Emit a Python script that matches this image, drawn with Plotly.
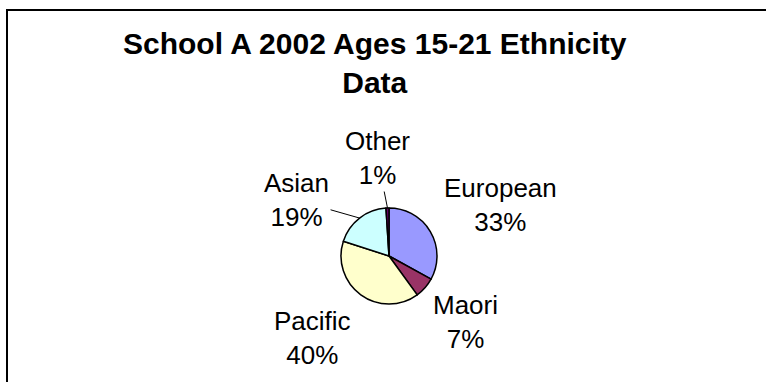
import math
import plotly.graph_objects as go

# Ethnicity breakdown, percent of students
groups = ["European", "Maori", "Pacific", "Asian", "Other"]
shares = [33, 7, 40, 19, 1]
slice_colors = ["#9999FF", "#993366", "#FFFFCC", "#CCFFFF", "#660066"]

# Label offsets (pixels) from the slice's rim midpoint, and whether a leader line is drawn
label_offsets = [(70, -27), (40, 34), (-48, 43), (-63, -18), (-10, -50)]
leader_lines = [False, False, False, True, True]

W, H = 766, 382
cx, cy, r = 389, 256, 48  # pie centre and radius in pixels

fig = go.Figure(
    go.Pie(
        labels=groups,
        values=shares,
        sort=False,
        direction="clockwise",
        rotation=0,
        textinfo="none",
        hoverinfo="label+percent",
        marker=dict(colors=slice_colors, line=dict(color="black", width=1.5)),
        domain=dict(x=[(cx - r) / W, (cx + r) / W], y=[(H - cy - r) / H, (H - cy + r) / H]),
        showlegend=False,
    )
)

# Category labels placed off the middle of each slice's rim
total = sum(shares)
cum = 0
annotations = []
for name, val, (dx, dy), lead in zip(groups, shares, label_offsets, leader_lines):
    mid = (cum + val / 2) / total * 2 * math.pi
    cum += val
    px = cx + r * math.sin(mid)
    py = cy - r * math.cos(mid)
    pct = round(val / total * 100)
    text = f"{name}<br>{pct}%"
    if lead:
        annotations.append(dict(
            x=px / W, y=1 - py / H, xref="paper", yref="paper",
            text=text, showarrow=True, arrowhead=0, arrowwidth=1, arrowcolor="black",
            ax=dx, ay=dy, standoff=0, font=dict(size=26, color="black"), align="center",
        ))
    else:
        annotations.append(dict(
            x=(px + dx) / W, y=1 - (py + dy) / H, xref="paper", yref="paper",
            text=text, showarrow=False, xanchor="center", yanchor="middle",
            font=dict(size=26, color="black"), align="center",
        ))

# Chart title, two centred bold lines
annotations.append(dict(
    x=375 / W, y=1 - 63 / H, xref="paper", yref="paper",
    text="<b>School A 2002 Ages 15-21 Ethnicity<br>Data</b>",
    showarrow=False, xanchor="center", yanchor="middle", align="center",
    font=dict(size=30, color="black"),
))

fig.update_layout(
    width=W,
    height=H,
    margin=dict(l=0, r=0, t=0, b=0),
    paper_bgcolor="white",
    plot_bgcolor="white",
    font=dict(family="Liberation Sans, Arial, sans-serif", color="black"),
    annotations=annotations,
    shapes=[
        # chart-area frame, running off the right and bottom edges
        dict(type="rect", xref="paper", yref="paper",
             x0=7 / W, x1=(W + 20) / W, y0=-20 / H, y1=1 - 10 / H,
             line=dict(color="black", width=2), fillcolor="rgba(0,0,0,0)", layer="below"),
    ],
)

fig.write_html("out.html")
